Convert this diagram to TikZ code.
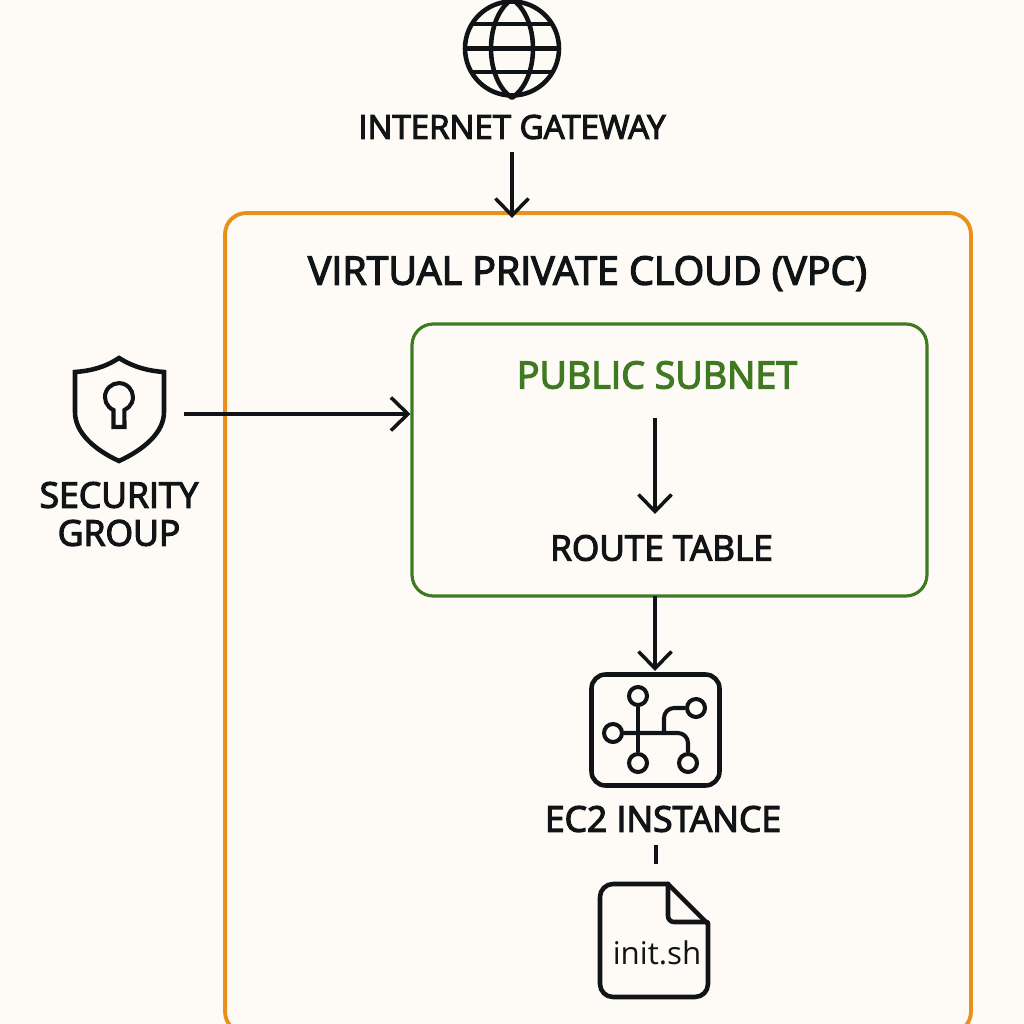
\documentclass[tikz,border=0pt]{standalone}
\usepackage{fontspec}
\setmainfont{Open Sans}
\newfontfamily\labfont[FakeBold=3.4]{Open Sans}
\usetikzlibrary{arrows.meta}
\definecolor{bgc}{HTML}{FEFBF6}
\definecolor{ink}{HTML}{101417}
\definecolor{vpcc}{HTML}{E8901A}
\definecolor{subc}{HTML}{3F7A22}
\tikzset{
  x=0.02cm,y=-0.02cm,
  lab/.style={inner sep=0pt,text=ink,align=center},
  arr/.style={draw=ink,line width=1.9pt,-{Straight Barb[length=0.34cm,width=0.66cm,line width=2pt]}},
  icon/.style={draw=ink,line width=2.6pt,line join=round,line cap=round},
  thinicon/.style={draw=ink,line width=2.3pt,line join=round,line cap=butt},
  box/.style={inner sep=0pt,rounded corners=0.42cm,fill=none},
  pin/.style={circle,draw=ink,line width=2.3pt,minimum size=0.36cm,inner sep=0pt},
}
\begin{document}
\begin{tikzpicture}
\path[use as bounding box,fill=bgc] (0,0) rectangle (1024,1024);
\clip (0,0) rectangle (1024,1024);
% containers
\node[box,draw=vpcc,line width=2.2pt,minimum width=14.92cm,minimum height=16.4cm] (vpc) at (598,623) {};
\node[box,draw=subc,line width=1.8pt,minimum width=10.3cm,minimum height=5.44cm] (subnet) at (669.5,460) {};
% labels
\node[lab,font=\labfont\fontsize{18.8}{26}\selectfont] (igw) at (512,127) {INTERNET GATEWAY};
\node[lab,font=\labfont\fontsize{22.4}{26}\selectfont] (vpct) at (587.5,273.5) {VIRTUAL PRIVATE CLOUD (VPC)};
\node[lab,text=subc,font=\labfont\fontsize{21.4}{26}\selectfont] (subt) at (657,375) {PUBLIC SUBNET};
\node[lab,font=\labfont\fontsize{20}{26}\selectfont] (rt) at (661.5,548) {ROUTE TABLE};
\node[lab,font=\labfont\fontsize{20.2}{21.6}\selectfont] (sg) at (119,514) {SECURITY\\GROUP};
\node[lab,font=\labfont\fontsize{20.2}{26}\selectfont] (ec2) at (663,819) {EC2 INSTANCE};
% globe
\node[draw=ink,line width=2.6pt,circle,minimum size=1.88cm,inner sep=0pt] (globe) at (512,48.5) {};
\draw[icon] (globe.north) .. controls (484,18) and (484,79) .. (globe.south) .. controls (540,79) and (540,18) .. (globe.north);
\draw[icon,line cap=butt] (globe.west) -- (globe.east);
\draw[icon,line cap=butt] (472,24) -- (552,24) (472,72) -- (552,72);
% shield
\coordinate (shieldtop) at (119,358);
\draw[icon,line join=miter] (shieldtop) .. controls (135,368) and (150,371) .. (164,372) -- (164,412) .. controls (164,432) and (145,449) .. (119,461) .. controls (93,449) and (75,432) .. (75,412) -- (75,372) .. controls (89,371) and (104,368) .. (shieldtop) -- cycle;
\coordinate (shieldr) at (184,414);
\draw[thinicon,line join=miter] (113.5,410) arc[start angle=113,end angle=427,radius=14] -- (124.5,427) -- (113.5,427) -- cycle;
% EC2 icon
\node[draw=ink,line width=2.6pt,rounded corners=0.28cm,minimum width=2.56cm,minimum height=2.22cm,inner sep=0pt] (chip) at (655.5,730) {};
\node[pin] (p1) at (638,696) {};
\node[pin] (p2) at (696,708) {};
\node[pin] (p3) at (613,733) {};
\node[pin] (p4) at (638,763) {};
\node[pin] (p5) at (688,763) {};
\draw[thinicon] (p1) -- (p4);
\draw[thinicon,rounded corners=0.2cm] (p3) -- (688,733) -- (p5);
\draw[thinicon,rounded corners=0.2cm] (664,733) -- (664,708) -- (p2);
% file
\draw[icon,rounded corners=0.26cm] (668,884) -- (600,884) -- (600,997) -- (708,997) -- (708,923);
\draw[icon] (668,884) -- (707,923);
\draw[icon,rounded corners=0.12cm] (668,884) -- (668,922) -- (707,922);
\node[inner sep=0pt,text=ink,font=\fontsize{17.8}{22}\selectfont] (initsh) at (657,953) {init.sh};
% connectors
\coordinate (a1) at (512,152);
\coordinate (a2) at (512,218);
\draw[arr] (a1) -- (a2);
\draw[arr] (shieldr) -- (subnet.west |- shieldr);
\coordinate (s1) at (655,418);
\coordinate (s2) at (655,514);
\draw[arr] (s1) -- (s2);
\coordinate (s3) at (655,596);
\coordinate (s4) at (655,671);
\draw[arr] (s3) -- (s4);
\coordinate (d1) at (656,845);
\coordinate (d2) at (656,864);
\draw[draw=ink,line width=2.4pt] (d1) -- (d2);
\end{tikzpicture}
\end{document}
